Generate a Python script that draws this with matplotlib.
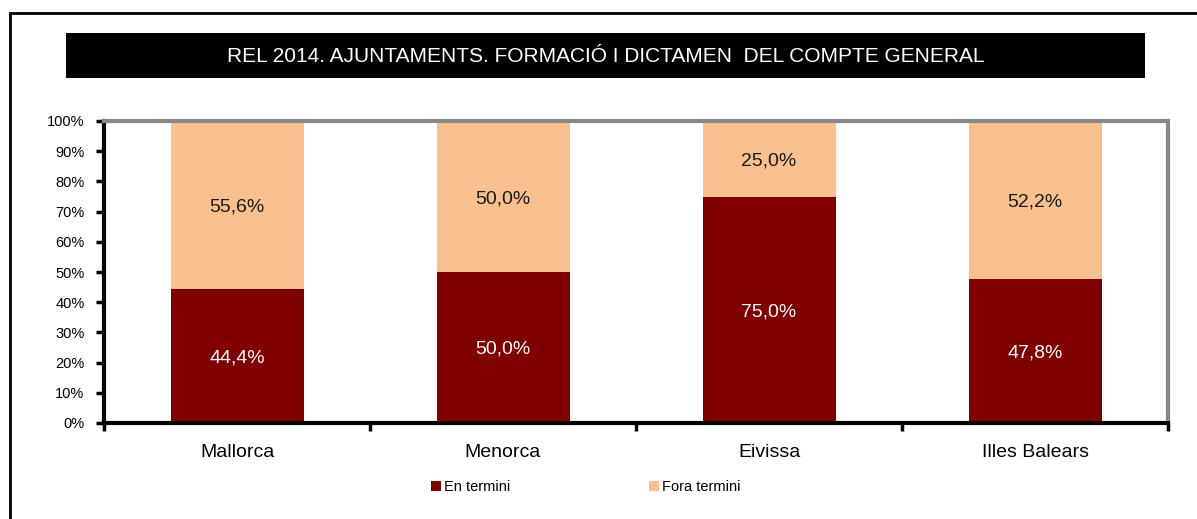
import matplotlib
matplotlib.use("Agg")
import matplotlib.pyplot as plt
from matplotlib.patches import Rectangle
import numpy as np

categories = ["Mallorca", "Menorca", "Eivissa", "Illes Balears"]
en_termini = [44.4, 50.0, 75.0, 47.8]
fora_termini = [55.6, 50.0, 25.0, 52.2]
series_names = ["En termini", "Fora termini"]
title = "REL 2014. AJUNTAMENTS. FORMACIÓ I DICTAMEN  DEL COMPTE GENERAL"
yticks = [0, 10, 20, 30, 40, 50, 60, 70, 80, 90, 100]

plt.rcParams['font.family'] = ['Liberation Sans', 'DejaVu Sans']

W, H = 1197, 519
fig = plt.figure(figsize=(W / 100, H / 100), dpi=100)

def fx(px):
    return px / W

def fy(py):
    return 1 - py / H

# outer frame (left and top visible)
fig.patches.append(Rectangle((fx(10), fy(600)), fx(1300), fy(13) - fy(600),
                             transform=fig.transFigure, fill=False,
                             edgecolor='black', linewidth=2))
# title box
fig.patches.append(Rectangle((fx(66), fy(78)), fx(1145) - fx(66), fy(33) - fy(78),
                             transform=fig.transFigure, facecolor='black',
                             edgecolor='none'))
fig.text(fx(606), fy(56), title, color='white', fontsize=15,
         ha='center', va='center')

ax = fig.add_axes([fx(104), fy(423), fx(1168) - fx(104), fy(121) - fy(423)])
x = np.arange(len(categories))
c1, c2 = '#800000', '#F9C08F'
ax.bar(x, en_termini, width=0.5, color=c1, label=series_names[0])
ax.bar(x, fora_termini, width=0.5, bottom=en_termini, color=c2, label=series_names[1])

for i in range(len(categories)):
    ax.text(x[i], en_termini[i] / 2, f"{en_termini[i]:.1f}%".replace('.', ','),
            ha='center', va='center_baseline', color='white', fontsize=14)
    ax.text(x[i], en_termini[i] + fora_termini[i] / 2,
            f"{fora_termini[i]:.1f}%".replace('.', ','),
            ha='center', va='center_baseline', color='#1a1a1a', fontsize=14)

ax.set_xlim(-0.5, len(categories) - 0.5)
ax.set_ylim(0, 100)
ax.set_yticks(yticks)
ax.set_yticklabels([f"{v}%" for v in yticks], fontsize=10.5)
ax.set_xticks(x)
ax.set_xticklabels(categories, fontsize=14)
ax.tick_params(axis='x', length=0, pad=15)
ax.set_xticks(np.arange(len(categories) + 1) - 0.5, minor=True)
ax.tick_params(axis='x', which='minor', length=6, width=2.5, color='black')
ax.tick_params(axis='y', length=6, width=2.5, color='black', pad=8)

for s in ['left', 'bottom']:
    ax.spines[s].set_linewidth(3)
    ax.spines[s].set_color('black')
for s in ['top', 'right']:
    ax.spines[s].set_linewidth(3)
    ax.spines[s].set_color('#888888')

handles, labels = ax.get_legend_handles_labels()
leg = fig.legend(handles, labels, loc='center', bbox_to_anchor=(fx(586), fy(487)),
                 ncol=2, frameon=False, fontsize=10.5, handlelength=0.7,
                 handleheight=0.7, handletextpad=0.2, columnspacing=9.5)

fig.savefig("out.png", dpi=100)
